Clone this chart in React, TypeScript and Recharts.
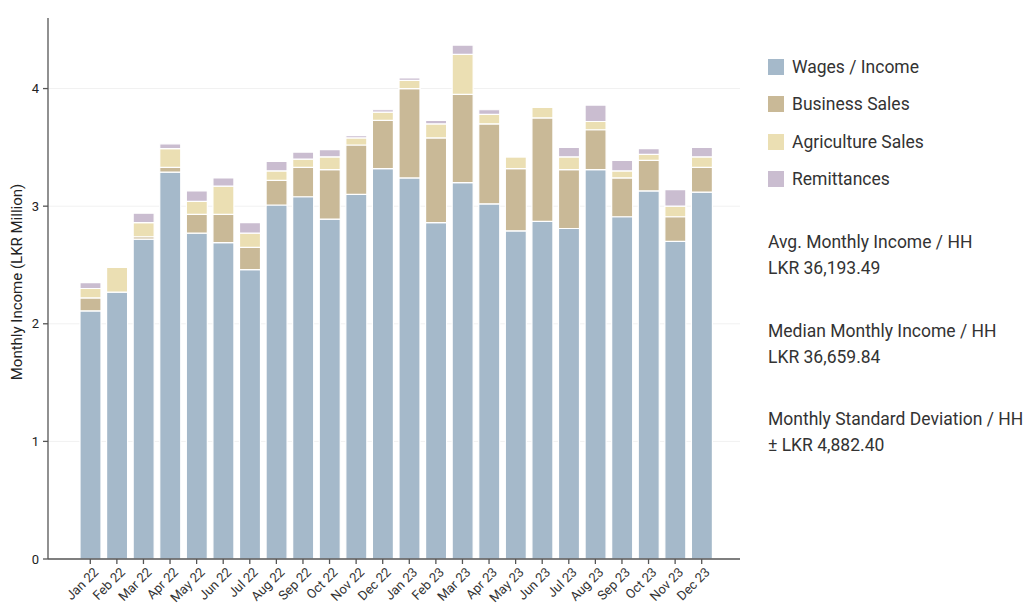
import { BarChart, Bar, XAxis, YAxis, CartesianGrid, Legend } from "recharts";

const months = [
  "Jan 22", "Feb 22", "Mar 22", "Apr 22", "May 22", "Jun 22", "Jul 22", "Aug 22",
  "Sep 22", "Oct 22", "Nov 22", "Dec 22", "Jan 23", "Feb 23", "Mar 23", "Apr 23",
  "May 23", "Jun 23", "Jul 23", "Aug 23", "Sep 23", "Oct 23", "Nov 23", "Dec 23",
];

// LKR million
const wages = [2.11, 2.27, 2.72, 3.29, 2.77, 2.69, 2.46, 3.01, 3.08, 2.89, 3.1, 3.32, 3.24, 2.86, 3.2, 3.02, 2.79, 2.87, 2.81, 3.31, 2.91, 3.13, 2.7, 3.12];
const business = [0.11, 0.0, 0.02, 0.04, 0.16, 0.24, 0.19, 0.21, 0.25, 0.42, 0.42, 0.41, 0.76, 0.72, 0.75, 0.68, 0.53, 0.88, 0.5, 0.34, 0.33, 0.26, 0.21, 0.21];
const agriculture = [0.08, 0.21, 0.12, 0.16, 0.11, 0.24, 0.12, 0.08, 0.07, 0.11, 0.06, 0.07, 0.07, 0.12, 0.34, 0.08, 0.1, 0.09, 0.11, 0.07, 0.06, 0.05, 0.09, 0.09];
const remittances = [0.05, 0.0, 0.08, 0.04, 0.09, 0.07, 0.09, 0.08, 0.06, 0.06, 0.02, 0.02, 0.02, 0.03, 0.08, 0.04, 0.01, 0.01, 0.08, 0.14, 0.09, 0.05, 0.14, 0.08];

const yTicks = [0, 1, 2, 3, 4];
const gridValues = [1, 2, 3, 4];

const series = [
  { key: "wages", name: "Wages / Income", color: "#a5b9ca" },
  { key: "business", name: "Business Sales", color: "#c9b997" },
  { key: "agriculture", name: "Agriculture Sales", color: "#ebdfb3" },
  { key: "remittances", name: "Remittances", color: "#cabdd0" },
];

const stats = [
  ["Avg. Monthly Income / HH", "LKR 36,193.49"],
  ["Median Monthly Income / HH", "LKR 36,659.84"],
  ["Monthly Standard Deviation / HH", "± LKR 4,882.40"],
];

const data = months.map((month, i) => ({
  month,
  wages: wages[i],
  business: business[i],
  agriculture: agriculture[i],
  remittances: remittances[i],
}));

const FONT = "Roboto, 'Noto Sans', sans-serif";

function MonthTick({ x, y, payload }: any) {
  return (
    <text
      x={x + 9}
      y={y + 7}
      transform={`rotate(-45 ${x + 9} ${y + 7})`}
      textAnchor="end"
      fontSize={13}
      fill="#333"
      fontFamily={FONT}
    >
      {payload.value}
    </text>
  );
}

function SideLegend() {
  return (
    <div style={{ position: "relative", width: 262, height: 608, fontFamily: FONT, color: "#333", fontSize: 17.5 }}>
      {series.map((s, i) => (
        <div key={s.key} style={{ position: "absolute", left: 0, top: 57 + i * 37.3, height: 20, display: "flex", alignItems: "center" }}>
          <span style={{ width: 16, height: 16, background: s.color, display: "inline-block", marginRight: 8 }} />
          <span>{s.name}</span>
        </div>
      ))}
      {stats.map((s, i) => (
        <div key={s[0]} style={{ position: "absolute", left: 0, top: 229 + i * 88.5, lineHeight: "26px" }}>
          <div>{s[0]}</div>
          <div>{s[1]}</div>
        </div>
      ))}
    </div>
  );
}

export default function App() {
  return (
    <div style={{ position: "absolute", left: 0, top: 0, width: 1030, height: 608, background: "#fff" }}>
      <BarChart width={1030} height={608} data={data} margin={{ top: 18, right: 290, bottom: 0, left: 0 }}>
        <CartesianGrid vertical={false} stroke="#f1f1f1" horizontalValues={gridValues} />
        <XAxis
          dataKey="month"
          interval={0}
          height={49}
          padding={{ left: 29, right: 25 }}
          tick={<MonthTick />}
          tickSize={5}
          stroke="#555"
          strokeWidth={1.3}
        />
        <YAxis
          domain={[0, 4.6]}
          ticks={yTicks}
          width={48}
          tickSize={5}
          tickMargin={4}
          stroke="#555"
          strokeWidth={1.3}
          tick={{ fill: "#222", fontSize: 13, fontFamily: FONT }}
          label={{
            content: () => (
              <text
                x={17}
                y={282}
                transform="rotate(-90 17 282)"
                textAnchor="middle"
                dominantBaseline="central"
                fontSize={15}
                fill="#222"
                fontFamily={FONT}
              >
                Monthly Income (LKR Million)
              </text>
            ),
          }}
        />
        <Legend
          layout="vertical"
          align="center"
          verticalAlign="middle"
          content={<SideLegend />}
          wrapperStyle={{ left: 768, top: 0, width: 262, height: 608 }}
        />
        {series.map((s) => (
          <Bar
            key={s.key}
            dataKey={s.key}
            name={s.name}
            stackId="a"
            fill={s.color}
            stroke="#fff"
            strokeWidth={1.2}
            barSize={21}
            isAnimationActive={false}
          />
        ))}
      </BarChart>
    </div>
  );
}
